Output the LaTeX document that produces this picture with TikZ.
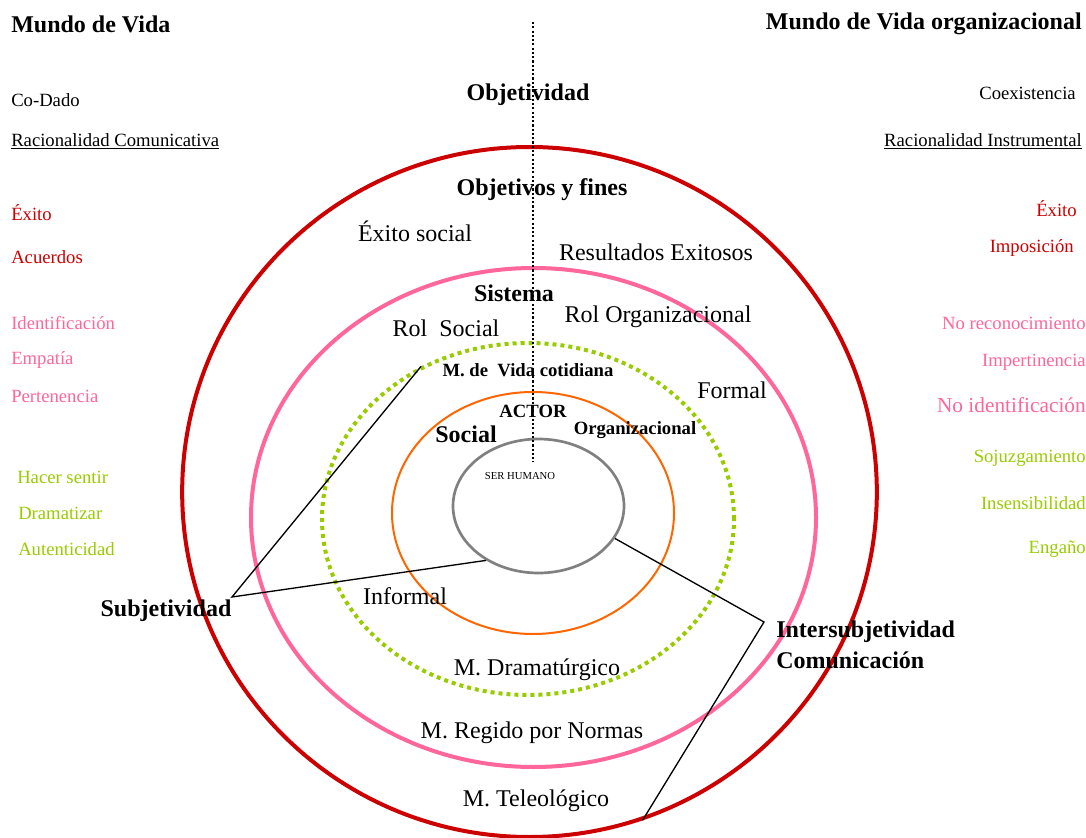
\documentclass[tikz,border=0pt]{standalone}
\usepackage{fontspec}
\setmainfont{Liberation Serif}
\usetikzlibrary{shapes.geometric}
\definecolor{rojo}{HTML}{CC0000}
\definecolor{rosa}{HTML}{FF6699}
\definecolor{verde}{HTML}{99CC00}
\definecolor{naranja}{HTML}{FF6600}
\definecolor{gris}{HTML}{808080}
\begin{document}
\begin{tikzpicture}[x=0.75pt,y=-0.75pt,
  ring/.style={draw,ellipse,inner sep=0pt},
  big/.style={font=\fontsize{18}{20}\selectfont},
  bigb/.style={font=\fontsize{18}{20}\selectfont\bfseries},
  small/.style={font=\fontsize{14}{16}\selectfont},
  izq/.style={small,anchor=west,inner sep=0pt},
  der/.style={small,anchor=east,inner sep=0pt},
  linea/.style={draw,line width=1pt}]
\useasboundingbox (0,0) rectangle (1086,838);

% anillos
\node[ring,draw=rojo,line width=3pt,minimum width=521pt,minimum height=517.5pt] (teleo) at (529.5,492) {};
\node[ring,draw=rosa,line width=3pt,minimum width=423.75pt,minimum height=374.25pt] (normas) at (533.5,517.5) {};
\node[ring,draw=verde,line width=3pt,dash pattern=on 3pt off 3pt,minimum width=309pt,minimum height=264pt] (vida) at (528,519) {};
\node[ring,draw=naranja,line width=1.5pt,minimum width=211.5pt,minimum height=181.5pt] (actor) at (533,513) {};
\node[ring,draw=gris,line width=2pt,minimum width=128.25pt,minimum height=100.5pt] (ser) at (538.5,506) {};

% lineas
\coordinate (subjV) at (232,597);
\coordinate (interV) at (764,622);
\path[linea] (vida.125) -- (subjV) -- (ser.226);
\path[linea] (ser.-23) -- (interV) -- (teleo.-71);

% columna izquierda
\node[bigb,anchor=west,inner sep=0pt] (mundo) at (11,24) {Mundo de Vida};
\node[izq] (codado) at (11,100) {Co-Dado};
\node[izq] (raccom) at (11,141) {\underline{Racionalidad Comunicativa}};
\node[izq,text=rojo] (exitoI) at (11,213) {Éxito};
\node[izq,text=rojo] (acuerdos) at (11,257) {Acuerdos};
\node[izq,text=rosa] (ident) at (11,323) {Identificación};
\node[izq,text=rosa] (empatia) at (11,360) {Empatía};
\node[izq,text=rosa] (pertenencia) at (11,396) {Pertenencia};
\node[izq,text=verde] (hacer) at (17,477) {Hacer sentir};
\node[izq,text=verde] (dramatizar) at (18,513) {Dramatizar};
\node[izq,text=verde] (autent) at (18,549) {Autenticidad};

% columna derecha
\node[bigb,anchor=east,inner sep=0pt] (mundoOrg) at (1082,24) {Mundo de Vida organizacional};
\node[der] (coex) at (1076,93) {Coexistencia};
\node[der] (racins) at (1082,141) {\underline{Racionalidad Instrumental}};
\node[der,text=rojo] (exitoD) at (1077,209) {Éxito};
\node[der,text=rojo] (imposicion) at (1074,248) {Imposición};
\node[der,text=rosa] (noreco) at (1086,323) {No reconocimiento};
\node[der,text=rosa] (impert) at (1086,362) {Impertinencia};
\node[der,text=rosa,font=\fontsize{16}{18}\selectfont] (noident) at (1086,405) {No identificación};
\node[der,text=verde] (sojuz) at (1086,458) {Sojuzgamiento};
\node[der,text=verde] (insens) at (1086,503) {Insensibilidad};
\node[der,text=verde] (engano) at (1086,549) {Engaño};

% centro
\node[bigb] (objetividad) at (528,95) {Objetividad};
\node[bigb] (objetivos) at (542,190) {Objetivos y fines};
\node[big] (exitosoc) at (415,231) {Éxito social};
\node[big] (resultados) at (656,252) {Resultados Exitosos};
\node[bigb] (sistema) at (514,293) {Sistema};
\node[big] (rolsoc) at (446,328) {Rol\ \ Social};
\node[big] (rolorg) at (658,317) {Rol Organizacional};
\node[font=\fontsize{14}{16}\selectfont\bfseries] (cotidiana) at (528,370) {M. de\ \ Vida cotidiana};
\node[big] (formal) at (732,390) {Formal};
\node[font=\fontsize{14}{16}\selectfont\bfseries] (actorT) at (533,411) {ACTOR};
\node[bigb] (social) at (466,434) {Social};
\node[font=\fontsize{14}{16}\selectfont\bfseries] (organiz) at (635,430) {Organizacional};
\node[font=\fontsize{8}{9}\selectfont] (serT) at (520,476) {SER HUMANO};
\node[big] (informal) at (405,596) {Informal};
\node[bigb] (subj) at (166,611) {Subjetividad};
\node[bigb,anchor=west,inner sep=0pt] (intersub) at (776,632) {Intersubjetividad};
\node[bigb,anchor=west,inner sep=0pt] (comun) at (776,660) {Comunicación};
\node[big] (mdrama) at (537,670) {M. Dramatúrgico};
\node[big] (mnormas) at (532,733) {M. Regido por Normas};
\node[big] (mteleo) at (536,801) {M. Teleológico};

% eje
\coordinate (ejeA) at (533,22);
\coordinate (ejeB) at (533,462);
\draw[line width=1.6pt,dash pattern=on 1.6pt off 1.6pt] (ejeA) -- (ejeB);
\end{tikzpicture}
\end{document}
